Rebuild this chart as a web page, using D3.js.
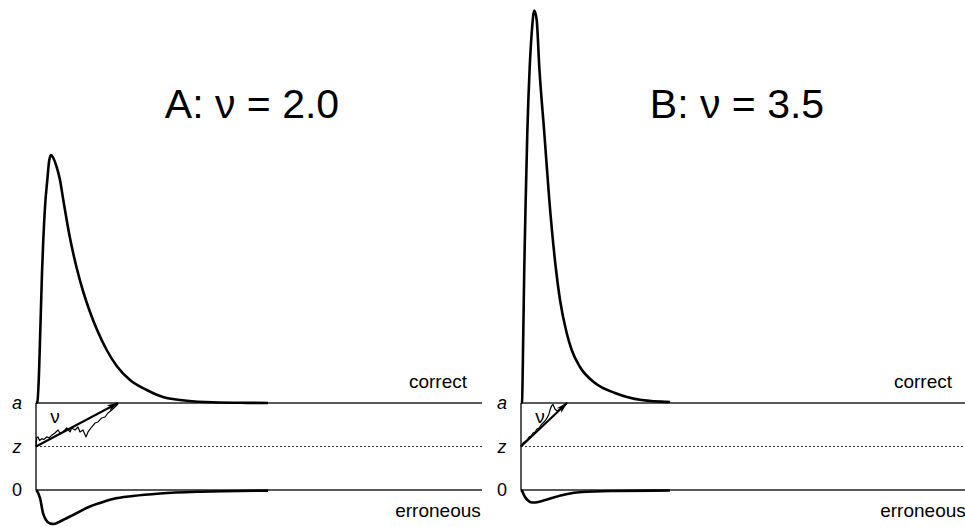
<!DOCTYPE html>
<html>
<head>
<meta charset="utf-8">
<script src="https://cdn.jsdelivr.net/npm/d3@7"></script>
<style>
  html, body { margin: 0; padding: 0; background: #fff; }
  svg { display: block; }
  text { font-family: "Liberation Sans", Arial, sans-serif; fill: #000; }
</style>
</head>
<body>
<svg id="chart" width="965" height="527"></svg>
<script>
// ---------- data ----------
const panelTitles = ["A: \u03BD = 2.0", "B: \u03BD = 3.5"];
const boundaryLabels = ["a", "z", "0"];
const boundaryValues = [1, 0.5, 0];          // a, z, 0 on the evidence axis
const outcomeLabels = ["correct", "erroneous"];

// Panel A: first-passage-time densities (t in s, density)
const tA_correct = [0, 0.0044, 0.0101, 0.0135, 0.0168, 0.0202, 0.0245, 0.0303, 0.0380, 0.0447, 0.0504, 0.0582, 0.0696, 0.0807, 0.0918, 0.1032, 0.1143, 0.1369, 0.1591, 0.1816, 0.2041, 0.2378, 0.2714, 0.3161, 0.3723, 0.4271, 0.5068, 0.5953, 0.7086, 0.7802];
const dA_correct = [0, 0.02, 0.60, 1.26, 1.92, 2.60, 3.26, 3.92, 4.46, 4.86, 4.96, 4.90, 4.72, 4.46, 4.06, 3.66, 3.30, 2.70, 2.22, 1.82, 1.48, 1.06, 0.74, 0.46, 0.26, 0.12, 0.046, 0.014, 0.003, 0];
const tA_error = [0, 0.0034, 0.0135, 0.0235, 0.0336, 0.0471, 0.0605, 0.0807, 0.1043, 0.1312, 0.1816, 0.2152, 0.2590, 0.3262, 0.4170, 0.5515, 0.7802];
const dA_error = [0, 0.02, 0.16, 0.46, 0.60, 0.67, 0.68, 0.63, 0.56, 0.48, 0.33, 0.26, 0.18, 0.12, 0.07, 0.034, 0.012];

// Panel B
const tB_correct = [0, 0.0034, 0.0077, 0.0111, 0.0158, 0.0212, 0.0293, 0.0360, 0.0447, 0.0528, 0.0615, 0.0784, 0.0952, 0.1167, 0.1312, 0.1537, 0.1705, 0.1984, 0.2489, 0.3161, 0.4059, 0.5011];
const dB_correct = [0, 0.02, 1.40, 2.72, 4.06, 5.40, 6.72, 7.40, 7.85, 7.66, 6.72, 5.40, 4.06, 2.72, 2.06, 1.40, 1.06, 0.72, 0.40, 0.20, 0.06, 0.02];
const tB_error = [0, 0.0034, 0.0084, 0.0135, 0.0235, 0.0370, 0.0471, 0.0706, 0.1043, 0.1480, 0.2052, 0.3161, 0.5011];
const dB_error = [0, 0.02, 0.08, 0.14, 0.21, 0.25, 0.25, 0.22, 0.16, 0.09, 0.04, 0.02, 0.01];

// Sample evidence paths (t, evidence between 0 and a=1)
const walkA_t = [0, 0.0024, 0.0067, 0.0120, 0.0192, 0.0260, 0.0360, 0.0440, 0.0528, 0.0639, 0.0740, 0.0807, 0.0908, 0.1032, 0.1143, 0.1201, 0.1312, 0.1412, 0.1480, 0.1581, 0.1682, 0.1749, 0.1873, 0.1984, 0.2085, 0.2209, 0.2320, 0.2421, 0.2546, 0.2657, 0.2758];
const walkA_e = [0.50, 0.60, 0.61, 0.57, 0.59, 0.58, 0.61, 0.60, 0.63, 0.655, 0.69, 0.655, 0.667, 0.713, 0.667, 0.713, 0.69, 0.724, 0.667, 0.69, 0.61, 0.667, 0.724, 0.77, 0.782, 0.828, 0.839, 0.885, 0.92, 0.954, 0.989];
const walkB_t = [0, 0.0067, 0.0135, 0.0202, 0.0269, 0.0336, 0.0404, 0.0471, 0.0538, 0.0605, 0.0673, 0.0740, 0.0807, 0.0874, 0.0942, 0.0975, 0.1026, 0.1076, 0.1143, 0.1211, 0.1312, 0.1412, 0.1547];
const walkB_e = [0.50, 0.54, 0.557, 0.575, 0.609, 0.621, 0.655, 0.667, 0.701, 0.713, 0.747, 0.77, 0.793, 0.828, 0.874, 0.92, 0.966, 0.983, 0.931, 0.908, 0.931, 0.966, 1.0];

// drift arrows: end time at upper boundary
const driftEndT = [0.2758, 0.1547];
const tMax = 1.5;

// ---------- drawing ----------
const svg = d3.select("#chart");
svg.append("rect").attr("width", 965).attr("height", 527).attr("fill", "#fff");

const defs = svg.append("defs");
defs.append("marker")
  .attr("id", "arrow").attr("viewBox", "0 -5 12 10")
  .attr("refX", 11).attr("refY", 0)
  .attr("markerWidth", 12).attr("markerHeight", 10)
  .attr("markerUnits", "userSpaceOnUse")
  .attr("orient", "auto")
  .append("path").attr("d", "M0,-3.2L12,0L0,3.2L3,0Z").attr("fill", "#000");

const panels = [
  { x0: 36, tc: tA_correct, dc: dA_correct, te: tA_error, de: dA_error, wt: walkA_t, we: walkA_e },
  { x0: 521, tc: tB_correct, dc: dB_correct, te: tB_error, de: dB_error, wt: walkB_t, we: walkB_e }
];

const W = 446;
const x = d3.scaleLinear().domain([0, tMax]).range([0, W]);
const yEv = d3.scaleLinear().domain([0, 1]).range([490, 403]);
const yUp = d3.scaleLinear().domain([0, 8]).range([403, 3]);
const yDn = d3.scaleLinear().domain([0, 1]).range([490, 540]);

panels.forEach((p, i) => {
  const g = svg.append("g").attr("transform", `translate(${p.x0},0)`);

  // boundaries
  g.append("line").attr("x1", 0).attr("x2", W)
    .attr("y1", yEv(1)).attr("y2", yEv(1))
    .attr("stroke", "#222").attr("stroke-width", 1.3);
  g.append("line").attr("x1", 0).attr("x2", W)
    .attr("y1", yEv(0)).attr("y2", yEv(0))
    .attr("stroke", "#222").attr("stroke-width", 1.3);
  g.append("line").attr("x1", 0).attr("x2", W)
    .attr("y1", yEv(0.5)).attr("y2", yEv(0.5))
    .attr("stroke", "#333").attr("stroke-width", 1)
    .attr("stroke-dasharray", "2,2");
  g.append("line").attr("x1", 0).attr("x2", 0)
    .attr("y1", yEv(1)).attr("y2", yEv(0))
    .attr("stroke", "#222").attr("stroke-width", 1.5);

  // boundary labels
  boundaryLabels.forEach((lab, k) => {
    g.append("text")
      .attr("x", -19).attr("y", yEv(boundaryValues[k]))
      .attr("dy", "0.35em").attr("text-anchor", "middle")
      .attr("font-size", 18)
      .attr("font-style", lab === "0" ? "normal" : "italic")
      .text(lab);
  });

  // outcome labels
  g.append("text").attr("x", W - 44).attr("y", 388)
    .attr("text-anchor", "middle").attr("font-size", 19).text(outcomeLabels[0]);
  g.append("text").attr("x", W - 44).attr("y", 517)
    .attr("text-anchor", "middle").attr("font-size", 19).text(outcomeLabels[1]);

  // title
  g.append("text").attr("x", W / 2 - 7).attr("y", 118)
    .attr("text-anchor", "middle").attr("font-size", 41).text(panelTitles[i]);

  // densities
  const up = d3.line().x((d, k) => x(p.tc[k])).y((d, k) => yUp(p.dc[k])).curve(d3.curveMonotoneX);
  g.append("path").attr("d", up(p.tc)).attr("fill", "none")
    .attr("stroke", "#000").attr("stroke-width", 2.6).attr("stroke-linejoin", "round");
  const dn = d3.line().x((d, k) => x(p.te[k])).y((d, k) => yDn(p.de[k])).curve(d3.curveMonotoneX);
  g.append("path").attr("d", dn(p.te)).attr("fill", "none")
    .attr("stroke", "#000").attr("stroke-width", 2.6).attr("stroke-linejoin", "round");

  // sample path
  const walk = d3.line().x((d, k) => x(p.wt[k])).y((d, k) => yEv(p.we[k]));
  g.append("path").attr("d", walk(p.wt)).attr("fill", "none")
    .attr("stroke", "#000").attr("stroke-width", 1.2).attr("stroke-linejoin", "round");

  // drift arrow
  g.append("line")
    .attr("x1", x(0)).attr("y1", yEv(0.5))
    .attr("x2", x(driftEndT[i])).attr("y2", yEv(1))
    .attr("stroke", "#000").attr("stroke-width", 2)
    .attr("marker-end", "url(#arrow)");

  // nu label
  g.append("text").attr("x", 19).attr("y", 423)
    .attr("text-anchor", "middle")
    .attr("font-family", "'Liberation Serif', 'Times New Roman', serif")
    .attr("font-size", 19).text("\u03BD");
});
</script>
</body>
</html>
